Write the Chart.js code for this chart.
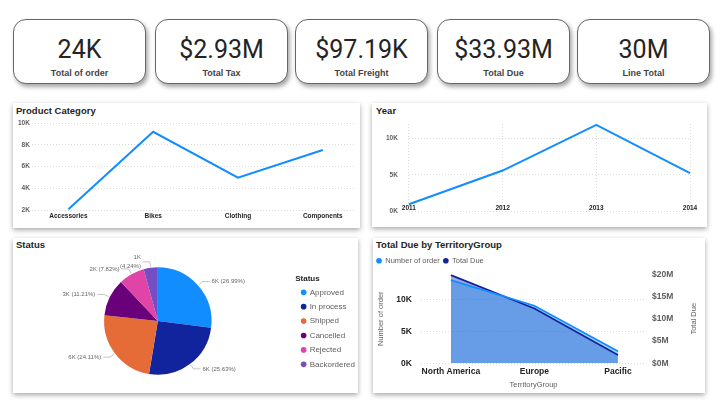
<!DOCTYPE html>
<html>
<head>
<meta charset="utf-8">
<script src="https://cdn.jsdelivr.net/npm/chart.js@4.4.1/dist/chart.umd.min.js"></script>
<style>
  body { margin: 0; width: 720px; height: 416px; background: #fff; position: relative; overflow: hidden;
         font-family: 'Liberation Sans', Arial, sans-serif; }
  .card { position: absolute; top: 19px; width: 133px; height: 65px; box-sizing: border-box;
          border: 1px solid #666; border-radius: 13px; background: #fff;
          box-shadow: 2px 3px 4px rgba(0,0,0,0.35); text-align: center; }
  .card .num { position: absolute; left: 0; right: 0; top: 15px; font-family: Roboto, sans-serif;
               font-size: 25px; line-height: 30px; color: #252423; }
  .card .lbl { position: absolute; left: 0; right: 0; top: 47px; font-size: 9px; font-weight: bold;
               line-height: 12px; color: #444; }
  .panel { position: absolute; background: #fff; box-shadow: 0 2px 5px rgba(0,0,0,0.35); }
  .title { position: absolute; font-size: 9.5px; font-weight: bold; line-height: 12px; color: #252423; }
  canvas { position: absolute; }
</style>
</head>
<body>
<div class="panel" style="left:13px;top:103px;width:347px;height:125px"></div>
<div class="panel" style="left:372px;top:103px;width:335px;height:124px"></div>
<div class="panel" style="left:13px;top:238px;width:345px;height:155px"></div>
<div class="panel" style="left:373px;top:238px;width:332px;height:155px"></div>

<div class="title" style="left:16px;top:105px">Product Category</div>
<div class="title" style="left:376px;top:105px">Year</div>
<div class="title" style="left:16px;top:239px">Status</div>
<div class="title" style="left:376px;top:239px">Total Due by TerritoryGroup</div>

<canvas id="product" width="347" height="125" style="left:13px;top:103px"></canvas>
<canvas id="year" width="335" height="124" style="left:372px;top:103px"></canvas>
<canvas id="status" width="352" height="155" style="left:13px;top:238px"></canvas>
<canvas id="territory" width="332" height="155" style="left:373px;top:238px"></canvas>

<script>
const kpiValues = ['24K', '$2.93M', '$97.19K', '$33.93M', '30M'];
const kpiLabels = ['Total of order', 'Total Tax', 'Total Freight', 'Total Due', 'Line Total'];
const kpiLefts = [13, 155, 295, 437, 577];

const categories = ['Accessories', 'Bikes', 'Clothing', 'Components'];
const categoryOrders = [2090, 9190, 4980, 7520];
const categoryTicks = [2000, 4000, 6000, 8000, 10000];

const years = ['2011', '2012', '2013', '2014'];
const yearOrders = [930, 5580, 11870, 5210];
const yearTicks = [0, 5000, 10000];

const statuses = ['Approved', 'In process', 'Shipped', 'Cancelled', 'Rejected', 'Backordered'];
const statusOrders = [6424, 6100, 5738, 2668, 1861, 1009];
const statusColors = ['#118DFF', '#12239E', '#E66C37', '#6B007B', '#E044A7', '#744EC2'];

const territories = ['North America', 'Europe', 'Pacific'];
const territoryOrders = [13100, 9050, 1890];
const territoryDue = [19800000, 12300000, 1850000];
const orderTicks = [0, 5000, 10000];
const dueTicks = [0, 5000000, 10000000, 15000000, 20000000];

// kpi cards
kpiValues.forEach((v, i) => {
  const d = document.createElement('div');
  d.className = 'card';
  d.style.left = kpiLefts[i] + 'px';
  d.innerHTML = '<div class="num">' + v + '</div><div class="lbl">' + kpiLabels[i] + '</div>';
  document.body.appendChild(d);
});

Chart.defaults.font.family = "'Liberation Sans', Arial, sans-serif";
Chart.defaults.animation = false;
Chart.defaults.responsive = false;
Chart.defaults.devicePixelRatio = 1;
Chart.defaults.plugins.tooltip.enabled = false;

const blue = '#118DFF';
const gridColor = '#dcdcdc';
const tickGray = '#605E5C';

// Product Category
new Chart('product', {
  type: 'line',
  data: {
    datasets: [{
      data: categories.map((c, i) => ({ x: i, y: categoryOrders[i] })),
      borderColor: blue, borderWidth: 2, pointRadius: 0,
    }],
  },
  options: {
    layout: { padding: { left: 3, right: 5, top: 20, bottom: 6 } },
    plugins: { legend: { display: false } },
    scales: {
      x: {
        type: 'linear', min: -0.43, max: 3.38,
        afterBuildTicks: s => { s.ticks = categories.map((c, i) => ({ value: i })); },
        ticks: { callback: v => categories[v], color: '#252423', font: { size: 6.5, weight: 'bold' },
                 padding: 2, maxRotation: 0, autoSkip: false },
        grid: { display: false, drawTicks: false },
        border: { display: false },
      },
      y: {
        min: 2000, max: 10000,
        afterBuildTicks: s => { s.ticks = categoryTicks.map(v => ({ value: v })); },
        ticks: { callback: v => v / 1000 + 'K', color: tickGray, font: { size: 6.5, weight: 'bold' }, padding: 2 },
        grid: { color: gridColor, drawTicks: false },
        border: { display: false, dash: [1, 2] },
      },
    },
  },
});

// Year
new Chart('year', {
  type: 'line',
  data: {
    labels: years,
    datasets: [{ data: yearOrders, borderColor: blue, borderWidth: 2, pointRadius: 0 }],
  },
  options: {
    layout: { padding: { left: 3, right: 17, top: 21, bottom: 16 } },
    plugins: { legend: { display: false } },
    scales: {
      x: {
        offset: false,
        ticks: { color: '#252423', font: { size: 6.5, weight: 'bold' }, padding: -7, maxRotation: 0 },
        grid: { color: gridColor, drawTicks: false },
        border: { display: false, dash: [1, 2] },
      },
      y: {
        min: 0, max: 12000,
        afterBuildTicks: s => { s.ticks = yearTicks.map(v => ({ value: v })); },
        ticks: { callback: v => v / 1000 + 'K', color: tickGray, font: { size: 6.5, weight: 'bold' }, padding: 11 },
        grid: { color: gridColor, drawTicks: false },
        border: { display: false, dash: [1, 2] },
      },
    },
  },
});

// Status pie with outside labels
const pieLabels = {
  id: 'pieLabels',
  afterDatasetsDraw(chart) {
    const ctx = chart.ctx;
    const total = statusOrders.reduce((a, b) => a + b, 0);
    ctx.save();
    ctx.font = "6px 'Liberation Sans', Arial, sans-serif";
    ctx.fillStyle = '#666';
    ctx.strokeStyle = '#aaa';
    ctx.lineWidth = 0.7;
    ctx.textBaseline = 'middle';
    chart.getDatasetMeta(0).data.forEach((arc, i) => {
      const { x, y, startAngle, endAngle, outerRadius } =
        arc.getProps(['x', 'y', 'startAngle', 'endAngle', 'outerRadius'], true);
      const mid = (startAngle + endAngle) / 2;
      const cos = Math.cos(mid), sin = Math.sin(mid);
      const side = cos >= 0 ? 1 : -1;
      const ex = x + (outerRadius + 6) * cos, ey = y + (outerRadius + 6) * sin;
      const hx = ex + side * 7;
      ctx.beginPath();
      ctx.moveTo(x + (outerRadius + 1) * cos, y + (outerRadius + 1) * sin);
      ctx.lineTo(ex, ey);
      ctx.lineTo(hx, ey);
      ctx.stroke();
      const share = statusOrders[i] / total;
      const value = Math.round(statusOrders[i] / 1000) + 'K';
      const pct = '(' + (share * 100).toFixed(2) + '%)';
      const tx = hx + side * 2;
      ctx.textAlign = side > 0 ? 'left' : 'right';
      if (share < 0.05) {
        ctx.fillText(value, tx, ey - 4.5);
        ctx.fillText(pct, tx, ey + 4.5);
      } else {
        ctx.fillText(value + ' ' + pct, tx, ey);
      }
    });
    ctx.restore();
  },
};

new Chart('status', {
  type: 'pie',
  data: {
    labels: statuses,
    datasets: [{ data: statusOrders, backgroundColor: statusColors, borderWidth: 0, radius: 53.7 }],
  },
  options: {
    layout: { padding: { left: 7.4, right: 0, top: 11, bottom: 0 } },
    plugins: {
      legend: {
        position: 'right',
        title: { display: true, text: 'Status', color: '#252423', position: 'start',
                 font: { size: 8, weight: 'bold' }, padding: { top: 7, bottom: -2 } },
        labels: { usePointStyle: true, pointStyle: 'circle', boxWidth: 4, boxHeight: 4,
                  padding: 6.4, color: tickGray, font: { size: 8 } },
      },
    },
  },
  plugins: [pieLabels],
});

// right axis title reads bottom-to-top like the left one
const upTitle = {
  id: 'upTitle',
  afterDraw(chart) {
    const s = chart.scales.y1;
    const ctx = chart.ctx;
    ctx.save();
    ctx.translate(s.right - 11.25, (s.top + s.bottom) / 2);
    ctx.rotate(-Math.PI / 2);
    ctx.font = "7.5px 'Liberation Sans', Arial, sans-serif";
    ctx.fillStyle = tickGray;
    ctx.textAlign = 'center';
    ctx.textBaseline = 'middle';
    ctx.fillText(s.options.title.text, 0, 0);
    ctx.restore();
  },
};

// Total Due by TerritoryGroup
new Chart('territory', {
  type: 'line',
  data: {
    datasets: [
      {
        label: 'Number of order',
        data: territories.map((t, i) => ({ x: i, y: territoryOrders[i] })),
        yAxisID: 'y', borderColor: blue, backgroundColor: 'rgba(17,141,255,0.4)',
        fill: 'origin', borderWidth: 1.8, pointRadius: 0,
      },
      {
        label: 'Total Due',
        data: territories.map((t, i) => ({ x: i, y: territoryDue[i] })),
        yAxisID: 'y1', borderColor: '#12239E', backgroundColor: 'rgba(18,35,158,0.4)',
        fill: 'origin', borderWidth: 1.8, pointRadius: 0,
      },
    ],
  },
  options: {
    layout: { padding: { left: 0, right: 0, top: 15.5, bottom: 3.6 } },
    plugins: {
      filler: { drawTime: 'beforeDatasetsDraw' },
      legend: {
        position: 'top', align: 'start', maxHeight: 20.8,
        labels: {
          usePointStyle: true, pointStyle: 'circle', boxWidth: 5, boxHeight: 4, padding: 3.5,
          color: tickGray, font: { size: 7.5 },
          generateLabels: chart => Chart.defaults.plugins.legend.labels.generateLabels(chart)
            .map(l => ({ ...l, fillStyle: l.strokeStyle, lineWidth: 0 })),
        },
      },
    },
    scales: {
      x: {
        type: 'linear', min: -0.36, max: 2.34,
        afterBuildTicks: s => { s.ticks = territories.map((t, i) => ({ value: i })); },
        ticks: { callback: v => territories[v], color: '#252423', font: { size: 8.5, weight: 'bold' },
                 padding: 3.5, maxRotation: 0, autoSkip: false },
        title: { display: true, text: 'TerritoryGroup', color: tickGray, font: { size: 7.5 },
                 padding: { top: 0, bottom: 0 } },
        grid: { display: false, drawTicks: false },
        border: { display: false },
      },
      y: {
        position: 'left', min: 0, max: 14000,
        afterBuildTicks: s => { s.ticks = orderTicks.map(v => ({ value: v })); },
        ticks: { callback: v => v / 1000 + 'K', color: '#252423', font: { size: 8.5, weight: 'bold' }, padding: 9 },
        title: { display: true, text: 'Number of order', color: tickGray, font: { size: 7.5 },
                 padding: { top: 3.2, bottom: 2 } },
        grid: { color: gridColor, drawTicks: false },
        border: { display: false, dash: [1, 2] },
      },
      y1: {
        position: 'right', min: 0, max: 20000000,
        afterBuildTicks: s => { s.ticks = dueTicks.map(v => ({ value: v })); },
        ticks: { callback: v => '$' + v / 1000000 + 'M', color: tickGray, font: { size: 8.5, weight: 'bold' }, padding: 5.7 },
        title: { display: true, text: 'Total Due', color: 'rgba(0,0,0,0)', font: { size: 7.5 },
                 padding: { top: 7.5, bottom: 9.5 } },
        grid: { display: false, drawTicks: false },
        border: { display: false },
      },
    },
  },
  plugins: [upTitle],
});
</script>
</body>
</html>
